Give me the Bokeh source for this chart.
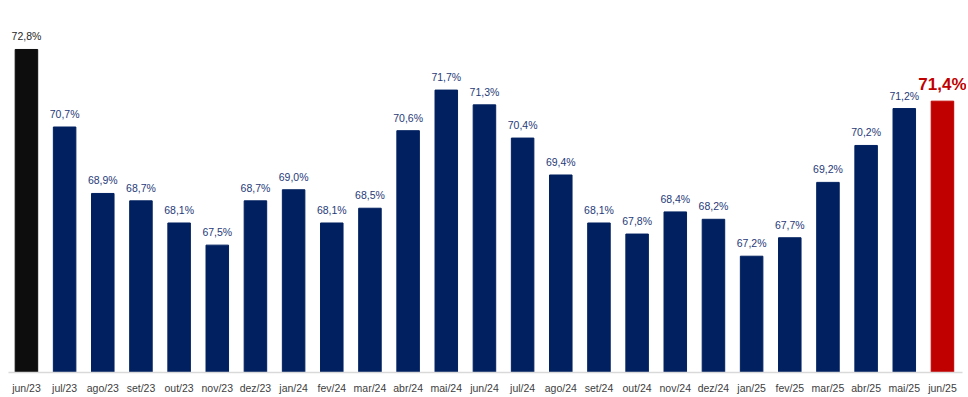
from bokeh.plotting import figure
from bokeh.models import ColumnDataSource, Range1d, FixedTicker
from bokeh.core.properties import value
from bokeh.embed import file_html
from bokeh.resources import INLINE

months = ["jun/23", "jul/23", "ago/23", "set/23", "out/23", "nov/23", "dez/23", "jan/24",
          "fev/24", "mar/24", "abr/24", "mai/24", "jun/24", "jul/24", "ago/24", "set/24",
          "out/24", "nov/24", "dez/24", "jan/25", "fev/25", "mar/25", "abr/25", "mai/25", "jun/25"]
values = [72.8, 70.7, 68.9, 68.7, 68.1, 67.5, 68.7, 69.0, 68.1, 68.5, 70.6, 71.7, 71.3,
          70.4, 69.4, 68.1, 67.8, 68.4, 68.2, 67.2, 67.7, 69.2, 70.2, 71.2, 71.4]

NAVY = "#002060"
n = len(values)
xs = list(range(n))
colors = ["#0d0d0d"] + [NAVY] * (n - 2) + ["#c00000"]
label_colors = ["#262626"] + ["#1f3a78"] * (n - 2)
labels = [f"{v:.1f}".replace(".", ",") + "%" for v in values]

p = figure(frame_width=958, frame_height=364, output_backend="svg", toolbar_location=None,
           x_range=Range1d(-0.47, 24.63), y_range=Range1d(64.05, 73.91),
           min_border_left=8, min_border_right=0, min_border_top=8, min_border_bottom=0)

src = ColumnDataSource(dict(x=xs, top=values, color=colors))
p.vbar(x="x", top="top", bottom=64.05, width=0.59, color="color", source=src)

lsrc = ColumnDataSource(dict(x=xs[:-1], y=values[:-1], t=labels[:-1], c=label_colors))
p.text(x="x", y="y", text="t", text_color="c", source=lsrc, text_align="center",
       text_baseline="bottom", y_offset=-7, text_font=value("Liberation Sans"),
       text_font_size="10.5px")
p.text(x=[xs[-1]], y=[values[-1]], text=[labels[-1]], text_color="#c00000",
       text_align="center", text_baseline="bottom", y_offset=-7,
       text_font=value("Liberation Sans"), text_font_size="17px", text_font_style="bold")

p.xaxis.ticker = FixedTicker(ticks=xs)
p.xaxis.bounds = (-0.49, 24.52)
p.xaxis.major_label_overrides = {i: m for i, m in enumerate(months)}
p.xaxis.major_tick_line_color = None
p.xaxis.minor_tick_line_color = None
p.xaxis.axis_line_color = "#d9d9d9"
p.xaxis.axis_line_width = 1.5
p.xaxis.major_label_text_font = "Liberation Sans"
p.xaxis.major_label_text_font_size = "10.5px"
p.xaxis.major_label_text_color = "#404040"
p.xaxis.major_label_standoff = 3
p.yaxis.visible = False
p.xgrid.visible = False
p.ygrid.visible = False
p.outline_line_color = None
p.background_fill_color = "white"

open("out.html", "w").write(file_html(p, INLINE))
